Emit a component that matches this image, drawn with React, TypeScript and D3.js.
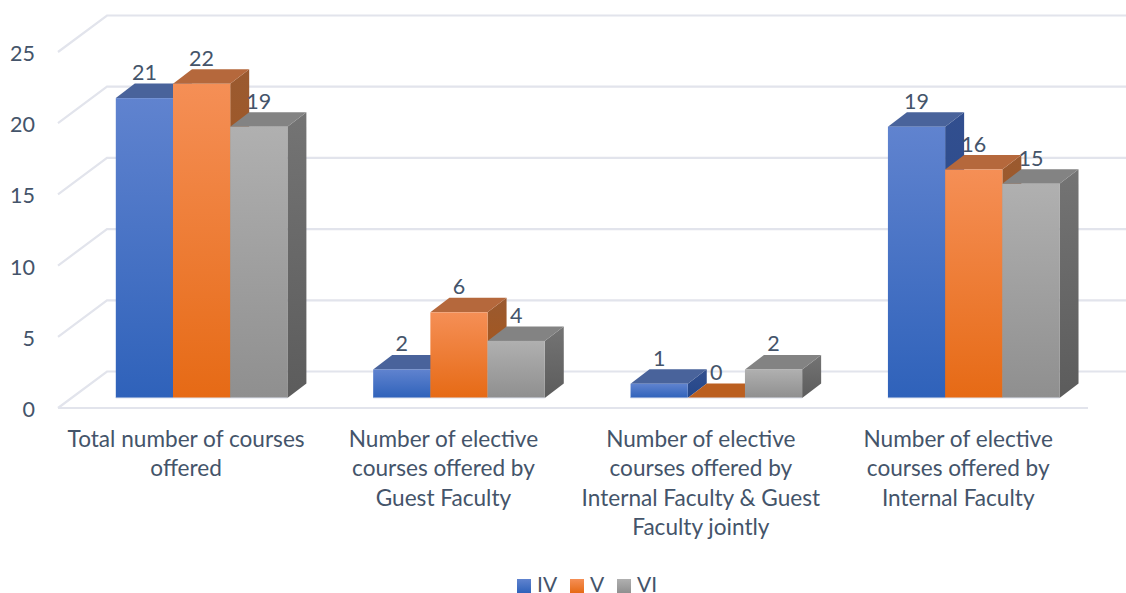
import React from "react";
import * as d3 from "d3";

const categories = [
  ["Total number of courses", "offered"],
  ["Number of elective", "courses offered by", "Guest Faculty"],
  ["Number of elective", "courses offered by", "Internal Faculty & Guest", "Faculty jointly"],
  ["Number of elective", "courses offered by", "Internal Faculty"],
];
const seriesNames = ["IV", "V", "VI"];
const iv = [21, 2, 1, 19];
const v = [22, 6, 0, 16];
const vi = [19, 4, 2, 15];
const seriesValues = [iv, v, vi];
const yTicks = [0, 5, 10, 15, 20, 25];

const palette = [
  { top: "#6083cf", bottom: "#2f62ba", cap: "#49639b", side0: "#324f8f", side1: "#24478a", zero: "#2f4f90" },
  { top: "#f58f56", bottom: "#e66a15", cap: "#b5683c", side0: "#9a5a30", side1: "#ad5410", zero: "#bb5f20" },
  { top: "#b0b0b0", bottom: "#8f8f8f", cap: "#838383", side0: "#747474", side1: "#5c5c5c", zero: "#838383" },
];
const TEXT = "#44546a";
const GRID = "#e2e4ec";
const FONT = "Lato, 'Open Sans', sans-serif";

const W = 1126, H = 593;
const DX = 19, DY = -14.5;

export default function App() {
  const yBar = d3.scaleLinear().domain([0, 25]).range([398, 41]);
  const yGrid = d3.scaleLinear().domain([0, 25]).range([408, 52]);
  const xGroup = d3.scaleLinear().domain([0, 4]).range([87, 1116.5]);
  const barW = 57.2;

  return (
    <svg width={W} height={H} viewBox={`0 0 ${W} ${H}`}
      style={{ position: "absolute", left: 0, top: 0, background: "#fff", fontFamily: FONT }}>
      <defs>
        {palette.map((p, i) => (
          <React.Fragment key={i}>
            <linearGradient id={`front${i}`} x1="0" y1="0" x2="0" y2="1">
              <stop offset="0" stopColor={p.top} />
              <stop offset="1" stopColor={p.bottom} />
            </linearGradient>
            <linearGradient id={`side${i}`} x1="0" y1="0" x2="0" y2="1">
              <stop offset="0" stopColor={p.side0} />
              <stop offset="1" stopColor={p.side1} />
            </linearGradient>
          </React.Fragment>
        ))}
      </defs>

      {yTicks.map((t) => (
        <polyline key={t} fill="none" stroke={GRID} strokeWidth={2.2}
          points={`58,${yGrid(t)} 107,${yGrid(t) - 36.5} 1126,${yGrid(t) - 36.5}`} />
      ))}
      <line x1={58} x2={1088} y1={yGrid(0)} y2={yGrid(0)} stroke={GRID} strokeWidth={2.2} />
      {yTicks.map((t) => (
        <text key={t} x={35} y={yGrid(t) + 9} textAnchor="end" fontSize={21.5} fill={TEXT}>{t}</text>
      ))}

      {categories.map((_, c) =>
        seriesValues.map((vals, s) => {
          const x0 = xGroup(c) + 28.8 + s * barW;
          const x1 = x0 + barW;
          const yTop = yBar(vals[c]);
          const yB = yBar(0);
          return (
            <g key={`${c}-${s}`}>
              {vals[c] > 0 && <polygon fill={`url(#side${s})`} points={`${x1},${yTop} ${x1 + DX},${yTop + DY} ${x1 + DX},${yB + DY} ${x1},${yB}`} />}
              <polygon fill={vals[c] > 0 ? palette[s].cap : palette[s].zero} points={`${x0},${yTop} ${x0 + DX},${yTop + DY} ${x1 + DX},${yTop + DY} ${x1},${yTop}`} />
              {vals[c] > 0 && <rect x={x0} y={yTop} width={barW} height={yB - yTop} fill={`url(#front${s})`} />}
              <line x1={x0} x2={x1} y1={yB} y2={yB} stroke="#dfe3ee" strokeWidth={1} />
            </g>
          );
        })
      )}

      {categories.map((_, c) =>
        seriesValues.map((vals, s) => (
          <text key={`l${c}-${s}`} x={xGroup(c) + 28.8 + s * barW + barW / 2} y={yBar(vals[c]) + DY - 3.5}
            textAnchor="middle" fontSize={21.5} fill={TEXT}>{vals[c]}</text>
        ))
      )}

      {categories.map((lines, c) => (
        <text key={c} textAnchor="middle" fontSize={22.6} fill={TEXT}>
          {lines.map((ln, i) => (
            <tspan key={i} x={xGroup(c) + 28.8 + 1.5 * barW - 15.5} y={447 + i * 29.3}>{ln}</tspan>
          ))}
        </text>
      ))}

      {seriesNames.map((n, i) => {
        const xs = [517, 570, 617];
        return (
          <g key={n}>
            <rect x={xs[i]} y={579} width={14} height={14} fill={`url(#front${i})`} />
            <text x={xs[i] + 20} y={592} fontSize={21} fill={TEXT}>{n}</text>
          </g>
        );
      })}
    </svg>
  );
}
